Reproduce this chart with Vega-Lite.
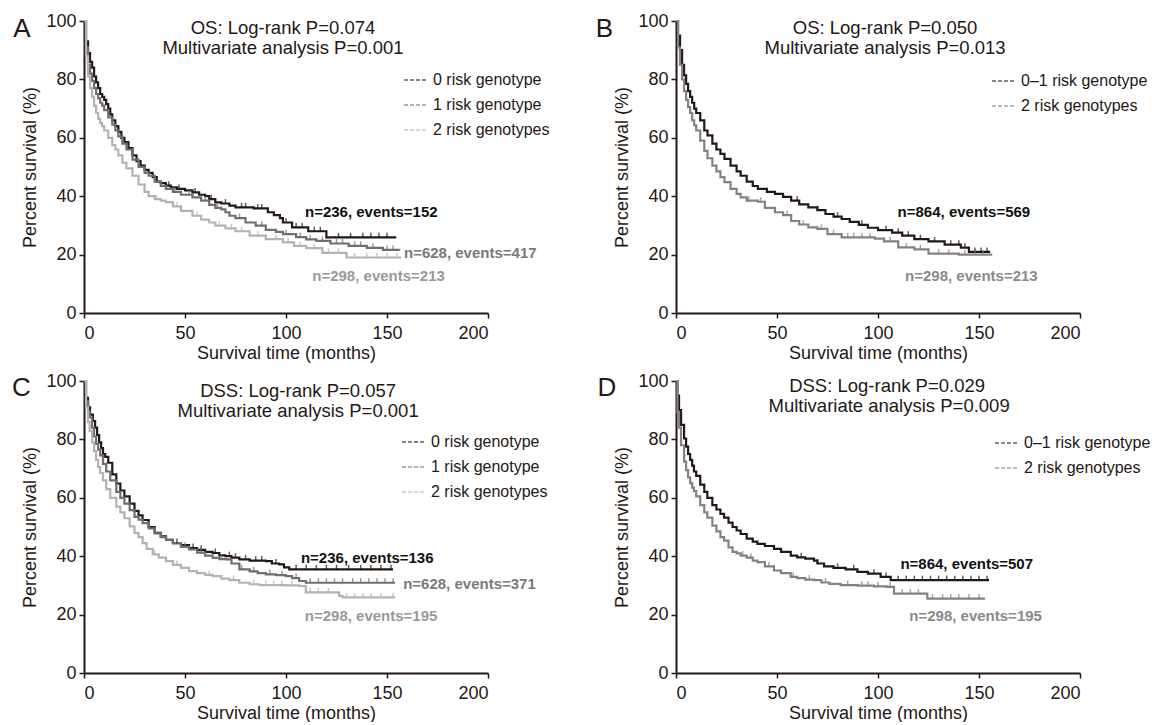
{
"$schema":"https://vega.github.io/schema/vega-lite/v6.json",
"padding":{"left":11,"top":12,"right":0,"bottom":0},
"background":"white",
"datasets":{"km":[
{"p":"A","g":"0 risk genotype","t":0,"s":100},{"p":"A","g":"0 risk genotype","t":1,"s":93},{"p":"A","g":"0 risk genotype","t":2,"s":89},{"p":"A","g":"0 risk genotype","t":3,"s":86},{"p":"A","g":"0 risk genotype","t":4,"s":84},{"p":"A","g":"0 risk genotype","t":5,"s":81},{"p":"A","g":"0 risk genotype","t":6,"s":79},{"p":"A","g":"0 risk genotype","t":7,"s":77},{"p":"A","g":"0 risk genotype","t":8,"s":75},{"p":"A","g":"0 risk genotype","t":9,"s":74},{"p":"A","g":"0 risk genotype","t":10,"s":73},{"p":"A","g":"0 risk genotype","t":11,"s":71.5},{"p":"A","g":"0 risk genotype","t":12,"s":70},{"p":"A","g":"0 risk genotype","t":13,"s":68},{"p":"A","g":"0 risk genotype","t":14,"s":66},{"p":"A","g":"0 risk genotype","t":15.5,"s":64},{"p":"A","g":"0 risk genotype","t":17,"s":62},{"p":"A","g":"0 risk genotype","t":18.5,"s":60},{"p":"A","g":"0 risk genotype","t":20,"s":58.5},{"p":"A","g":"0 risk genotype","t":22,"s":56.5},{"p":"A","g":"0 risk genotype","t":24,"s":54},{"p":"A","g":"0 risk genotype","t":26,"s":52},{"p":"A","g":"0 risk genotype","t":28,"s":50.5},{"p":"A","g":"0 risk genotype","t":30,"s":49},{"p":"A","g":"0 risk genotype","t":32,"s":48},{"p":"A","g":"0 risk genotype","t":34,"s":46.5},{"p":"A","g":"0 risk genotype","t":36,"s":45},{"p":"A","g":"0 risk genotype","t":38,"s":44.5},{"p":"A","g":"0 risk genotype","t":40.5,"s":43.6},{"p":"A","g":"0 risk genotype","t":43,"s":43},{"p":"A","g":"0 risk genotype","t":46,"s":42.5},{"p":"A","g":"0 risk genotype","t":50,"s":42},{"p":"A","g":"0 risk genotype","t":53.7,"s":41.3},{"p":"A","g":"0 risk genotype","t":57,"s":40.5},{"p":"A","g":"0 risk genotype","t":60,"s":40},{"p":"A","g":"0 risk genotype","t":62,"s":39},{"p":"A","g":"0 risk genotype","t":65,"s":37.9},{"p":"A","g":"0 risk genotype","t":68,"s":37.5},{"p":"A","g":"0 risk genotype","t":72,"s":36.8},{"p":"A","g":"0 risk genotype","t":75,"s":36.2},{"p":"A","g":"0 risk genotype","t":84,"s":35.8},{"p":"A","g":"0 risk genotype","t":91,"s":34.5},{"p":"A","g":"0 risk genotype","t":94,"s":33.5},{"p":"A","g":"0 risk genotype","t":97,"s":32.5},{"p":"A","g":"0 risk genotype","t":98.5,"s":31},{"p":"A","g":"0 risk genotype","t":103,"s":29.3},{"p":"A","g":"0 risk genotype","t":111,"s":28},{"p":"A","g":"0 risk genotype","t":120,"s":25.9},{"p":"A","g":"0 risk genotype","t":154,"s":25.5},
{"p":"A","g":"1 risk genotype","t":0,"s":100},{"p":"A","g":"1 risk genotype","t":1,"s":91},{"p":"A","g":"1 risk genotype","t":2,"s":85},{"p":"A","g":"1 risk genotype","t":3,"s":82},{"p":"A","g":"1 risk genotype","t":4,"s":79.5},{"p":"A","g":"1 risk genotype","t":5,"s":77},{"p":"A","g":"1 risk genotype","t":6,"s":75},{"p":"A","g":"1 risk genotype","t":7,"s":73.5},{"p":"A","g":"1 risk genotype","t":8,"s":72},{"p":"A","g":"1 risk genotype","t":9,"s":71},{"p":"A","g":"1 risk genotype","t":10,"s":69.5},{"p":"A","g":"1 risk genotype","t":12,"s":67},{"p":"A","g":"1 risk genotype","t":14,"s":64.5},{"p":"A","g":"1 risk genotype","t":15.5,"s":62.5},{"p":"A","g":"1 risk genotype","t":17,"s":60.5},{"p":"A","g":"1 risk genotype","t":19,"s":58},{"p":"A","g":"1 risk genotype","t":21,"s":56},{"p":"A","g":"1 risk genotype","t":24,"s":52.5},{"p":"A","g":"1 risk genotype","t":27,"s":50},{"p":"A","g":"1 risk genotype","t":30,"s":48},{"p":"A","g":"1 risk genotype","t":32,"s":47},{"p":"A","g":"1 risk genotype","t":35,"s":45},{"p":"A","g":"1 risk genotype","t":38,"s":43.5},{"p":"A","g":"1 risk genotype","t":40.5,"s":42.5},{"p":"A","g":"1 risk genotype","t":44,"s":41.5},{"p":"A","g":"1 risk genotype","t":48,"s":40.5},{"p":"A","g":"1 risk genotype","t":53.7,"s":39.6},{"p":"A","g":"1 risk genotype","t":58,"s":38.5},{"p":"A","g":"1 risk genotype","t":62,"s":37},{"p":"A","g":"1 risk genotype","t":65,"s":36},{"p":"A","g":"1 risk genotype","t":68,"s":35.5},{"p":"A","g":"1 risk genotype","t":70,"s":34.5},{"p":"A","g":"1 risk genotype","t":72,"s":33.3},{"p":"A","g":"1 risk genotype","t":75,"s":32.5},{"p":"A","g":"1 risk genotype","t":80,"s":31},{"p":"A","g":"1 risk genotype","t":85,"s":29.9},{"p":"A","g":"1 risk genotype","t":90,"s":28.5},{"p":"A","g":"1 risk genotype","t":95,"s":27.8},{"p":"A","g":"1 risk genotype","t":98.5,"s":27},{"p":"A","g":"1 risk genotype","t":105,"s":26},{"p":"A","g":"1 risk genotype","t":110,"s":25.2},{"p":"A","g":"1 risk genotype","t":115,"s":24.7},{"p":"A","g":"1 risk genotype","t":122,"s":23.8},{"p":"A","g":"1 risk genotype","t":131,"s":23},{"p":"A","g":"1 risk genotype","t":140,"s":22.3},{"p":"A","g":"1 risk genotype","t":148,"s":21.6},{"p":"A","g":"1 risk genotype","t":156,"s":21.3},
{"p":"A","g":"2 risk genotypes","t":0,"s":100},{"p":"A","g":"2 risk genotypes","t":1,"s":88},{"p":"A","g":"2 risk genotypes","t":2,"s":81},{"p":"A","g":"2 risk genotypes","t":3,"s":77},{"p":"A","g":"2 risk genotypes","t":4,"s":74},{"p":"A","g":"2 risk genotypes","t":5,"s":71},{"p":"A","g":"2 risk genotypes","t":6,"s":68.5},{"p":"A","g":"2 risk genotypes","t":7,"s":66.5},{"p":"A","g":"2 risk genotypes","t":8,"s":65},{"p":"A","g":"2 risk genotypes","t":9,"s":64},{"p":"A","g":"2 risk genotypes","t":10,"s":62.5},{"p":"A","g":"2 risk genotypes","t":12,"s":60},{"p":"A","g":"2 risk genotypes","t":14,"s":57.5},{"p":"A","g":"2 risk genotypes","t":15.5,"s":56},{"p":"A","g":"2 risk genotypes","t":17,"s":54},{"p":"A","g":"2 risk genotypes","t":19,"s":51.5},{"p":"A","g":"2 risk genotypes","t":21,"s":49.5},{"p":"A","g":"2 risk genotypes","t":24,"s":47},{"p":"A","g":"2 risk genotypes","t":27,"s":44},{"p":"A","g":"2 risk genotypes","t":30,"s":41.5},{"p":"A","g":"2 risk genotypes","t":32,"s":40},{"p":"A","g":"2 risk genotypes","t":35,"s":39},{"p":"A","g":"2 risk genotypes","t":38,"s":38.5},{"p":"A","g":"2 risk genotypes","t":40.5,"s":38},{"p":"A","g":"2 risk genotypes","t":44,"s":36.5},{"p":"A","g":"2 risk genotypes","t":48,"s":35},{"p":"A","g":"2 risk genotypes","t":53.7,"s":33.3},{"p":"A","g":"2 risk genotypes","t":58,"s":32},{"p":"A","g":"2 risk genotypes","t":62,"s":31},{"p":"A","g":"2 risk genotypes","t":65,"s":29.9},{"p":"A","g":"2 risk genotypes","t":70,"s":29},{"p":"A","g":"2 risk genotypes","t":75,"s":28},{"p":"A","g":"2 risk genotypes","t":82,"s":26.5},{"p":"A","g":"2 risk genotypes","t":90,"s":25.3},{"p":"A","g":"2 risk genotypes","t":98.5,"s":24.2},{"p":"A","g":"2 risk genotypes","t":104,"s":23},{"p":"A","g":"2 risk genotypes","t":110,"s":22.2},{"p":"A","g":"2 risk genotypes","t":118,"s":20.6},{"p":"A","g":"2 risk genotypes","t":130,"s":19},{"p":"A","g":"2 risk genotypes","t":157,"s":19},
{"p":"B","g":"0–1 risk genotype","t":0,"s":100},{"p":"B","g":"0–1 risk genotype","t":1,"s":95},{"p":"B","g":"0–1 risk genotype","t":2,"s":90},{"p":"B","g":"0–1 risk genotype","t":3,"s":85},{"p":"B","g":"0–1 risk genotype","t":4,"s":81.4},{"p":"B","g":"0–1 risk genotype","t":5,"s":78.5},{"p":"B","g":"0–1 risk genotype","t":6,"s":76},{"p":"B","g":"0–1 risk genotype","t":7,"s":74},{"p":"B","g":"0–1 risk genotype","t":8,"s":72},{"p":"B","g":"0–1 risk genotype","t":9,"s":70},{"p":"B","g":"0–1 risk genotype","t":10,"s":68.5},{"p":"B","g":"0–1 risk genotype","t":12,"s":66},{"p":"B","g":"0–1 risk genotype","t":14,"s":62.5},{"p":"B","g":"0–1 risk genotype","t":15.6,"s":60.8},{"p":"B","g":"0–1 risk genotype","t":18,"s":58},{"p":"B","g":"0–1 risk genotype","t":20,"s":56},{"p":"B","g":"0–1 risk genotype","t":22,"s":54.5},{"p":"B","g":"0–1 risk genotype","t":24,"s":52.8},{"p":"B","g":"0–1 risk genotype","t":27,"s":50.5},{"p":"B","g":"0–1 risk genotype","t":30,"s":48.5},{"p":"B","g":"0–1 risk genotype","t":32,"s":47},{"p":"B","g":"0–1 risk genotype","t":35,"s":45},{"p":"B","g":"0–1 risk genotype","t":38,"s":43.5},{"p":"B","g":"0–1 risk genotype","t":40.5,"s":42.5},{"p":"B","g":"0–1 risk genotype","t":45,"s":41.5},{"p":"B","g":"0–1 risk genotype","t":49,"s":40.8},{"p":"B","g":"0–1 risk genotype","t":53,"s":39.8},{"p":"B","g":"0–1 risk genotype","t":57,"s":38.5},{"p":"B","g":"0–1 risk genotype","t":61,"s":37.2},{"p":"B","g":"0–1 risk genotype","t":65.5,"s":36.2},{"p":"B","g":"0–1 risk genotype","t":70,"s":35.2},{"p":"B","g":"0–1 risk genotype","t":74,"s":33.9},{"p":"B","g":"0–1 risk genotype","t":78,"s":33},{"p":"B","g":"0–1 risk genotype","t":82,"s":32.2},{"p":"B","g":"0–1 risk genotype","t":86,"s":31.2},{"p":"B","g":"0–1 risk genotype","t":90.5,"s":30.2},{"p":"B","g":"0–1 risk genotype","t":95,"s":29.2},{"p":"B","g":"0–1 risk genotype","t":100,"s":28.4},{"p":"B","g":"0–1 risk genotype","t":107,"s":27.5},{"p":"B","g":"0–1 risk genotype","t":112,"s":26.5},{"p":"B","g":"0–1 risk genotype","t":118,"s":25.3},{"p":"B","g":"0–1 risk genotype","t":125,"s":24.5},{"p":"B","g":"0–1 risk genotype","t":133,"s":23.4},{"p":"B","g":"0–1 risk genotype","t":141,"s":22.4},{"p":"B","g":"0–1 risk genotype","t":145,"s":20.9},{"p":"B","g":"0–1 risk genotype","t":155.5,"s":20.9},
{"p":"B","g":"2 risk genotypes","t":0,"s":100},{"p":"B","g":"2 risk genotypes","t":1,"s":91},{"p":"B","g":"2 risk genotypes","t":2,"s":85},{"p":"B","g":"2 risk genotypes","t":3,"s":80},{"p":"B","g":"2 risk genotypes","t":4,"s":76},{"p":"B","g":"2 risk genotypes","t":5,"s":73},{"p":"B","g":"2 risk genotypes","t":6,"s":70.5},{"p":"B","g":"2 risk genotypes","t":7,"s":68.5},{"p":"B","g":"2 risk genotypes","t":8,"s":66},{"p":"B","g":"2 risk genotypes","t":9,"s":64.3},{"p":"B","g":"2 risk genotypes","t":10,"s":62.5},{"p":"B","g":"2 risk genotypes","t":12,"s":59},{"p":"B","g":"2 risk genotypes","t":14,"s":55.5},{"p":"B","g":"2 risk genotypes","t":15.6,"s":53},{"p":"B","g":"2 risk genotypes","t":18,"s":50.5},{"p":"B","g":"2 risk genotypes","t":20,"s":48.5},{"p":"B","g":"2 risk genotypes","t":22,"s":46.5},{"p":"B","g":"2 risk genotypes","t":24,"s":44.8},{"p":"B","g":"2 risk genotypes","t":27,"s":42.5},{"p":"B","g":"2 risk genotypes","t":30,"s":40.8},{"p":"B","g":"2 risk genotypes","t":32,"s":39.6},{"p":"B","g":"2 risk genotypes","t":35,"s":38.5},{"p":"B","g":"2 risk genotypes","t":40.5,"s":38.1},{"p":"B","g":"2 risk genotypes","t":44,"s":36},{"p":"B","g":"2 risk genotypes","t":49,"s":34.5},{"p":"B","g":"2 risk genotypes","t":53,"s":33.5},{"p":"B","g":"2 risk genotypes","t":57,"s":31.5},{"p":"B","g":"2 risk genotypes","t":61,"s":30.3},{"p":"B","g":"2 risk genotypes","t":65.5,"s":29.3},{"p":"B","g":"2 risk genotypes","t":70,"s":28.8},{"p":"B","g":"2 risk genotypes","t":75,"s":27},{"p":"B","g":"2 risk genotypes","t":82,"s":25.9},{"p":"B","g":"2 risk genotypes","t":98.5,"s":25.5},{"p":"B","g":"2 risk genotypes","t":103,"s":24.5},{"p":"B","g":"2 risk genotypes","t":110,"s":22.5},{"p":"B","g":"2 risk genotypes","t":118,"s":21.8},{"p":"B","g":"2 risk genotypes","t":125,"s":20.3},{"p":"B","g":"2 risk genotypes","t":140,"s":20},{"p":"B","g":"2 risk genotypes","t":156,"s":19.6},
{"p":"C","g":"0 risk genotype","t":0,"s":100},{"p":"C","g":"0 risk genotype","t":1,"s":94.2},{"p":"C","g":"0 risk genotype","t":2,"s":91},{"p":"C","g":"0 risk genotype","t":3,"s":88.5},{"p":"C","g":"0 risk genotype","t":4.4,"s":86.3},{"p":"C","g":"0 risk genotype","t":5.5,"s":84},{"p":"C","g":"0 risk genotype","t":6.5,"s":81.5},{"p":"C","g":"0 risk genotype","t":7.5,"s":79},{"p":"C","g":"0 risk genotype","t":8.5,"s":77},{"p":"C","g":"0 risk genotype","t":9.4,"s":75},{"p":"C","g":"0 risk genotype","t":10.5,"s":74},{"p":"C","g":"0 risk genotype","t":12,"s":72},{"p":"C","g":"0 risk genotype","t":14,"s":68},{"p":"C","g":"0 risk genotype","t":16,"s":64.9},{"p":"C","g":"0 risk genotype","t":18,"s":62.5},{"p":"C","g":"0 risk genotype","t":20,"s":60.5},{"p":"C","g":"0 risk genotype","t":22.6,"s":58},{"p":"C","g":"0 risk genotype","t":25,"s":55.5},{"p":"C","g":"0 risk genotype","t":27,"s":54},{"p":"C","g":"0 risk genotype","t":29,"s":52.4},{"p":"C","g":"0 risk genotype","t":32,"s":50},{"p":"C","g":"0 risk genotype","t":35,"s":48},{"p":"C","g":"0 risk genotype","t":38,"s":46.8},{"p":"C","g":"0 risk genotype","t":40.6,"s":45.6},{"p":"C","g":"0 risk genotype","t":44,"s":44.5},{"p":"C","g":"0 risk genotype","t":48,"s":43.8},{"p":"C","g":"0 risk genotype","t":52,"s":42.8},{"p":"C","g":"0 risk genotype","t":56,"s":42.2},{"p":"C","g":"0 risk genotype","t":60,"s":41.5},{"p":"C","g":"0 risk genotype","t":63.7,"s":41.1},{"p":"C","g":"0 risk genotype","t":67,"s":40.3},{"p":"C","g":"0 risk genotype","t":70,"s":40},{"p":"C","g":"0 risk genotype","t":73,"s":39.5},{"p":"C","g":"0 risk genotype","t":76.9,"s":38.9},{"p":"C","g":"0 risk genotype","t":82,"s":38.5},{"p":"C","g":"0 risk genotype","t":90,"s":38.3},{"p":"C","g":"0 risk genotype","t":93,"s":37.5},{"p":"C","g":"0 risk genotype","t":96.6,"s":37.2},{"p":"C","g":"0 risk genotype","t":99,"s":36.2},{"p":"C","g":"0 risk genotype","t":101.6,"s":35.5},{"p":"C","g":"0 risk genotype","t":153,"s":35.5},
{"p":"C","g":"1 risk genotype","t":0,"s":100},{"p":"C","g":"1 risk genotype","t":1,"s":93},{"p":"C","g":"1 risk genotype","t":2,"s":89.5},{"p":"C","g":"1 risk genotype","t":2.8,"s":87.5},{"p":"C","g":"1 risk genotype","t":4,"s":84},{"p":"C","g":"1 risk genotype","t":5,"s":81},{"p":"C","g":"1 risk genotype","t":6,"s":78.5},{"p":"C","g":"1 risk genotype","t":7,"s":76.5},{"p":"C","g":"1 risk genotype","t":8,"s":74.5},{"p":"C","g":"1 risk genotype","t":9.4,"s":71.6},{"p":"C","g":"1 risk genotype","t":11,"s":69},{"p":"C","g":"1 risk genotype","t":13,"s":66},{"p":"C","g":"1 risk genotype","t":16,"s":62},{"p":"C","g":"1 risk genotype","t":18,"s":60},{"p":"C","g":"1 risk genotype","t":20,"s":58},{"p":"C","g":"1 risk genotype","t":22.6,"s":55.8},{"p":"C","g":"1 risk genotype","t":25,"s":53.5},{"p":"C","g":"1 risk genotype","t":27,"s":52.5},{"p":"C","g":"1 risk genotype","t":29,"s":51.3},{"p":"C","g":"1 risk genotype","t":32,"s":49.5},{"p":"C","g":"1 risk genotype","t":35,"s":47.8},{"p":"C","g":"1 risk genotype","t":38,"s":46.5},{"p":"C","g":"1 risk genotype","t":40.6,"s":45.6},{"p":"C","g":"1 risk genotype","t":44,"s":44.5},{"p":"C","g":"1 risk genotype","t":48,"s":43.2},{"p":"C","g":"1 risk genotype","t":52,"s":42.3},{"p":"C","g":"1 risk genotype","t":56,"s":41.2},{"p":"C","g":"1 risk genotype","t":60,"s":40.2},{"p":"C","g":"1 risk genotype","t":63.7,"s":39.4},{"p":"C","g":"1 risk genotype","t":67,"s":39},{"p":"C","g":"1 risk genotype","t":70.3,"s":38.9},{"p":"C","g":"1 risk genotype","t":73,"s":37.5},{"p":"C","g":"1 risk genotype","t":76.9,"s":35.5},{"p":"C","g":"1 risk genotype","t":82,"s":34.8},{"p":"C","g":"1 risk genotype","t":86,"s":34.2},{"p":"C","g":"1 risk genotype","t":90,"s":33.8},{"p":"C","g":"1 risk genotype","t":95,"s":33.5},{"p":"C","g":"1 risk genotype","t":99.9,"s":33.2},{"p":"C","g":"1 risk genotype","t":103,"s":32.5},{"p":"C","g":"1 risk genotype","t":106.5,"s":31.5},{"p":"C","g":"1 risk genotype","t":109.8,"s":30.9},{"p":"C","g":"1 risk genotype","t":154,"s":30.9},
{"p":"C","g":"2 risk genotypes","t":0,"s":100},{"p":"C","g":"2 risk genotypes","t":1,"s":91},{"p":"C","g":"2 risk genotypes","t":2,"s":86},{"p":"C","g":"2 risk genotypes","t":2.8,"s":82.9},{"p":"C","g":"2 risk genotypes","t":4,"s":79},{"p":"C","g":"2 risk genotypes","t":5,"s":76},{"p":"C","g":"2 risk genotypes","t":6,"s":73},{"p":"C","g":"2 risk genotypes","t":7,"s":70.5},{"p":"C","g":"2 risk genotypes","t":8,"s":68.5},{"p":"C","g":"2 risk genotypes","t":9.4,"s":66},{"p":"C","g":"2 risk genotypes","t":11,"s":63},{"p":"C","g":"2 risk genotypes","t":13,"s":60},{"p":"C","g":"2 risk genotypes","t":16,"s":57},{"p":"C","g":"2 risk genotypes","t":18,"s":55},{"p":"C","g":"2 risk genotypes","t":20,"s":53},{"p":"C","g":"2 risk genotypes","t":22.6,"s":50.2},{"p":"C","g":"2 risk genotypes","t":25,"s":48},{"p":"C","g":"2 risk genotypes","t":27,"s":46.5},{"p":"C","g":"2 risk genotypes","t":29,"s":44.5},{"p":"C","g":"2 risk genotypes","t":31,"s":42.5},{"p":"C","g":"2 risk genotypes","t":34,"s":40.6},{"p":"C","g":"2 risk genotypes","t":37,"s":39.5},{"p":"C","g":"2 risk genotypes","t":40.6,"s":38.3},{"p":"C","g":"2 risk genotypes","t":44,"s":37},{"p":"C","g":"2 risk genotypes","t":48,"s":36},{"p":"C","g":"2 risk genotypes","t":52,"s":34.9},{"p":"C","g":"2 risk genotypes","t":56,"s":34.2},{"p":"C","g":"2 risk genotypes","t":60,"s":33.6},{"p":"C","g":"2 risk genotypes","t":63.7,"s":33.2},{"p":"C","g":"2 risk genotypes","t":68,"s":32.3},{"p":"C","g":"2 risk genotypes","t":72,"s":31.8},{"p":"C","g":"2 risk genotypes","t":76.9,"s":30.9},{"p":"C","g":"2 risk genotypes","t":82,"s":30.4},{"p":"C","g":"2 risk genotypes","t":86.8,"s":30.1},{"p":"C","g":"2 risk genotypes","t":100,"s":30},{"p":"C","g":"2 risk genotypes","t":106.5,"s":29.8},{"p":"C","g":"2 risk genotypes","t":109.8,"s":27.6},{"p":"C","g":"2 risk genotypes","t":126.3,"s":26.4},{"p":"C","g":"2 risk genotypes","t":128,"s":25.9},{"p":"C","g":"2 risk genotypes","t":154,"s":25.9},
{"p":"D","g":"0–1 risk genotype","t":0,"s":100},{"p":"D","g":"0–1 risk genotype","t":0.7,"s":95},{"p":"D","g":"0–1 risk genotype","t":1.5,"s":90},{"p":"D","g":"0–1 risk genotype","t":2.5,"s":85},{"p":"D","g":"0–1 risk genotype","t":4,"s":80.3},{"p":"D","g":"0–1 risk genotype","t":5,"s":77.5},{"p":"D","g":"0–1 risk genotype","t":6,"s":75},{"p":"D","g":"0–1 risk genotype","t":7,"s":73},{"p":"D","g":"0–1 risk genotype","t":8,"s":71},{"p":"D","g":"0–1 risk genotype","t":8.9,"s":69},{"p":"D","g":"0–1 risk genotype","t":10,"s":67.5},{"p":"D","g":"0–1 risk genotype","t":12,"s":64.5},{"p":"D","g":"0–1 risk genotype","t":14,"s":62},{"p":"D","g":"0–1 risk genotype","t":15.5,"s":60},{"p":"D","g":"0–1 risk genotype","t":18,"s":57.5},{"p":"D","g":"0–1 risk genotype","t":20,"s":56},{"p":"D","g":"0–1 risk genotype","t":22,"s":54.5},{"p":"D","g":"0–1 risk genotype","t":23.8,"s":53.2},{"p":"D","g":"0–1 risk genotype","t":26,"s":51.5},{"p":"D","g":"0–1 risk genotype","t":28,"s":50},{"p":"D","g":"0–1 risk genotype","t":30,"s":48.8},{"p":"D","g":"0–1 risk genotype","t":32,"s":47.6},{"p":"D","g":"0–1 risk genotype","t":35,"s":46},{"p":"D","g":"0–1 risk genotype","t":38,"s":45},{"p":"D","g":"0–1 risk genotype","t":40.3,"s":44.2},{"p":"D","g":"0–1 risk genotype","t":44,"s":43.5},{"p":"D","g":"0–1 risk genotype","t":48.5,"s":42.5},{"p":"D","g":"0–1 risk genotype","t":52,"s":41.5},{"p":"D","g":"0–1 risk genotype","t":56.8,"s":40.2},{"p":"D","g":"0–1 risk genotype","t":60,"s":39.6},{"p":"D","g":"0–1 risk genotype","t":64,"s":39.2},{"p":"D","g":"0–1 risk genotype","t":68.3,"s":38.5},{"p":"D","g":"0–1 risk genotype","t":70,"s":37.5},{"p":"D","g":"0–1 risk genotype","t":73.3,"s":36.5},{"p":"D","g":"0–1 risk genotype","t":78,"s":36},{"p":"D","g":"0–1 risk genotype","t":84,"s":35.5},{"p":"D","g":"0–1 risk genotype","t":89.8,"s":34.6},{"p":"D","g":"0–1 risk genotype","t":95,"s":34},{"p":"D","g":"0–1 risk genotype","t":101.3,"s":32.9},{"p":"D","g":"0–1 risk genotype","t":106.3,"s":31.8},{"p":"D","g":"0–1 risk genotype","t":155,"s":31.8},
{"p":"D","g":"2 risk genotypes","t":0,"s":100},{"p":"D","g":"2 risk genotypes","t":0.7,"s":89.4},{"p":"D","g":"2 risk genotypes","t":1.5,"s":84},{"p":"D","g":"2 risk genotypes","t":2.5,"s":78},{"p":"D","g":"2 risk genotypes","t":4,"s":72.4},{"p":"D","g":"2 risk genotypes","t":5,"s":69.5},{"p":"D","g":"2 risk genotypes","t":6,"s":67},{"p":"D","g":"2 risk genotypes","t":7,"s":65},{"p":"D","g":"2 risk genotypes","t":8,"s":63.5},{"p":"D","g":"2 risk genotypes","t":8.9,"s":62.3},{"p":"D","g":"2 risk genotypes","t":10,"s":60.5},{"p":"D","g":"2 risk genotypes","t":12,"s":57.5},{"p":"D","g":"2 risk genotypes","t":14,"s":55},{"p":"D","g":"2 risk genotypes","t":15.5,"s":53.2},{"p":"D","g":"2 risk genotypes","t":18,"s":50.5},{"p":"D","g":"2 risk genotypes","t":20,"s":48.5},{"p":"D","g":"2 risk genotypes","t":22,"s":46.5},{"p":"D","g":"2 risk genotypes","t":23.8,"s":45.3},{"p":"D","g":"2 risk genotypes","t":26,"s":43},{"p":"D","g":"2 risk genotypes","t":28,"s":41.5},{"p":"D","g":"2 risk genotypes","t":30,"s":41},{"p":"D","g":"2 risk genotypes","t":32,"s":40.2},{"p":"D","g":"2 risk genotypes","t":35,"s":39.5},{"p":"D","g":"2 risk genotypes","t":38,"s":38.5},{"p":"D","g":"2 risk genotypes","t":40.3,"s":38},{"p":"D","g":"2 risk genotypes","t":44,"s":36.5},{"p":"D","g":"2 risk genotypes","t":48.5,"s":35.1},{"p":"D","g":"2 risk genotypes","t":52,"s":34.2},{"p":"D","g":"2 risk genotypes","t":56.8,"s":32.9},{"p":"D","g":"2 risk genotypes","t":60,"s":32.5},{"p":"D","g":"2 risk genotypes","t":64,"s":32},{"p":"D","g":"2 risk genotypes","t":68.3,"s":31.8},{"p":"D","g":"2 risk genotypes","t":72,"s":31},{"p":"D","g":"2 risk genotypes","t":76,"s":30.5},{"p":"D","g":"2 risk genotypes","t":81.5,"s":30.1},{"p":"D","g":"2 risk genotypes","t":90,"s":29.9},{"p":"D","g":"2 risk genotypes","t":98,"s":29.7},{"p":"D","g":"2 risk genotypes","t":104.6,"s":29.5},{"p":"D","g":"2 risk genotypes","t":107.9,"s":27.2},{"p":"D","g":"2 risk genotypes","t":124.4,"s":25.5},{"p":"D","g":"2 risk genotypes","t":153,"s":25.5}
],
"cens":[
{"p":"A","g":"0 risk genotype","t":42,"s":43.6},{"p":"A","g":"0 risk genotype","t":47,"s":42.5},{"p":"A","g":"0 risk genotype","t":55,"s":41.3},{"p":"A","g":"0 risk genotype","t":63,"s":39},{"p":"A","g":"0 risk genotype","t":70,"s":37.5},{"p":"A","g":"0 risk genotype","t":78,"s":36.2},{"p":"A","g":"0 risk genotype","t":80,"s":36.2},{"p":"A","g":"0 risk genotype","t":86,"s":35.8},{"p":"A","g":"0 risk genotype","t":88,"s":35.8},{"p":"A","g":"0 risk genotype","t":100,"s":31},{"p":"A","g":"0 risk genotype","t":105,"s":29.3},{"p":"A","g":"0 risk genotype","t":108,"s":29.3},{"p":"A","g":"0 risk genotype","t":114,"s":28},{"p":"A","g":"0 risk genotype","t":117,"s":28},{"p":"A","g":"0 risk genotype","t":126,"s":25.9},{"p":"A","g":"0 risk genotype","t":132,"s":25.9},{"p":"A","g":"0 risk genotype","t":138,"s":25.9},{"p":"A","g":"0 risk genotype","t":142,"s":25.9},{"p":"A","g":"0 risk genotype","t":146,"s":25.9},{"p":"A","g":"0 risk genotype","t":150,"s":25.9},
{"p":"A","g":"1 risk genotype","t":45,"s":41.5},{"p":"A","g":"1 risk genotype","t":52,"s":40.5},{"p":"A","g":"1 risk genotype","t":60,"s":38.5},{"p":"A","g":"1 risk genotype","t":66,"s":36},{"p":"A","g":"1 risk genotype","t":77,"s":32.5},{"p":"A","g":"1 risk genotype","t":88,"s":29.9},{"p":"A","g":"1 risk genotype","t":100,"s":27},{"p":"A","g":"1 risk genotype","t":107,"s":26},{"p":"A","g":"1 risk genotype","t":112,"s":25.2},{"p":"A","g":"1 risk genotype","t":118,"s":24.7},{"p":"A","g":"1 risk genotype","t":125,"s":23.8},{"p":"A","g":"1 risk genotype","t":128,"s":23.8},{"p":"A","g":"1 risk genotype","t":134,"s":23},{"p":"A","g":"1 risk genotype","t":137,"s":23},{"p":"A","g":"1 risk genotype","t":143,"s":22.3},{"p":"A","g":"1 risk genotype","t":150,"s":21.6},{"p":"A","g":"1 risk genotype","t":153,"s":21.6},
{"p":"A","g":"2 risk genotypes","t":36,"s":39},{"p":"A","g":"2 risk genotypes","t":46,"s":36.5},{"p":"A","g":"2 risk genotypes","t":56,"s":33.3},{"p":"A","g":"2 risk genotypes","t":67,"s":29.9},{"p":"A","g":"2 risk genotypes","t":73,"s":29},{"p":"A","g":"2 risk genotypes","t":78,"s":28},{"p":"A","g":"2 risk genotypes","t":86,"s":26.5},{"p":"A","g":"2 risk genotypes","t":95,"s":25.3},{"p":"A","g":"2 risk genotypes","t":101,"s":24.2},{"p":"A","g":"2 risk genotypes","t":107,"s":23},{"p":"A","g":"2 risk genotypes","t":114,"s":22.2},{"p":"A","g":"2 risk genotypes","t":121,"s":20.6},{"p":"A","g":"2 risk genotypes","t":126,"s":20.6},{"p":"A","g":"2 risk genotypes","t":134,"s":19},{"p":"A","g":"2 risk genotypes","t":140,"s":19},{"p":"A","g":"2 risk genotypes","t":145,"s":19},{"p":"A","g":"2 risk genotypes","t":150,"s":19},{"p":"A","g":"2 risk genotypes","t":155,"s":19},
{"p":"B","g":"0–1 risk genotype","t":60,"s":38.5},{"p":"B","g":"0–1 risk genotype","t":70,"s":35.2},{"p":"B","g":"0–1 risk genotype","t":80,"s":33},{"p":"B","g":"0–1 risk genotype","t":92,"s":30.2},{"p":"B","g":"0–1 risk genotype","t":104,"s":28.4},{"p":"B","g":"0–1 risk genotype","t":110,"s":27.5},{"p":"B","g":"0–1 risk genotype","t":115,"s":26.5},{"p":"B","g":"0–1 risk genotype","t":121,"s":25.3},{"p":"B","g":"0–1 risk genotype","t":128,"s":24.5},{"p":"B","g":"0–1 risk genotype","t":136,"s":23.4},{"p":"B","g":"0–1 risk genotype","t":140,"s":23.4},{"p":"B","g":"0–1 risk genotype","t":143,"s":22.4},{"p":"B","g":"0–1 risk genotype","t":148,"s":20.9},{"p":"B","g":"0–1 risk genotype","t":151,"s":20.9},{"p":"B","g":"0–1 risk genotype","t":154,"s":20.9},
{"p":"B","g":"2 risk genotypes","t":36,"s":38.5},{"p":"B","g":"2 risk genotypes","t":42,"s":38.1},{"p":"B","g":"2 risk genotypes","t":55,"s":33.5},{"p":"B","g":"2 risk genotypes","t":63,"s":30.3},{"p":"B","g":"2 risk genotypes","t":72,"s":28.8},{"p":"B","g":"2 risk genotypes","t":78,"s":27},{"p":"B","g":"2 risk genotypes","t":85,"s":25.9},{"p":"B","g":"2 risk genotypes","t":88,"s":25.9},{"p":"B","g":"2 risk genotypes","t":92,"s":25.9},{"p":"B","g":"2 risk genotypes","t":96,"s":25.9},{"p":"B","g":"2 risk genotypes","t":106,"s":24.5},{"p":"B","g":"2 risk genotypes","t":114,"s":22.5},{"p":"B","g":"2 risk genotypes","t":121,"s":21.8},{"p":"B","g":"2 risk genotypes","t":130,"s":20.3},{"p":"B","g":"2 risk genotypes","t":135,"s":20.3},{"p":"B","g":"2 risk genotypes","t":143,"s":20},{"p":"B","g":"2 risk genotypes","t":148,"s":20},{"p":"B","g":"2 risk genotypes","t":152,"s":20},
{"p":"C","g":"0 risk genotype","t":46,"s":44.5},{"p":"C","g":"0 risk genotype","t":54,"s":42.8},{"p":"C","g":"0 risk genotype","t":58,"s":42.2},{"p":"C","g":"0 risk genotype","t":65,"s":41.1},{"p":"C","g":"0 risk genotype","t":72,"s":40},{"p":"C","g":"0 risk genotype","t":75,"s":39.5},{"p":"C","g":"0 risk genotype","t":80,"s":38.9},{"p":"C","g":"0 risk genotype","t":85,"s":38.5},{"p":"C","g":"0 risk genotype","t":88,"s":38.5},{"p":"C","g":"0 risk genotype","t":95,"s":37.5},{"p":"C","g":"0 risk genotype","t":105,"s":35.5},{"p":"C","g":"0 risk genotype","t":110,"s":35.5},{"p":"C","g":"0 risk genotype","t":115,"s":35.5},{"p":"C","g":"0 risk genotype","t":120,"s":35.5},{"p":"C","g":"0 risk genotype","t":125,"s":35.5},{"p":"C","g":"0 risk genotype","t":131,"s":35.5},{"p":"C","g":"0 risk genotype","t":137,"s":35.5},{"p":"C","g":"0 risk genotype","t":142,"s":35.5},{"p":"C","g":"0 risk genotype","t":147,"s":35.5},{"p":"C","g":"0 risk genotype","t":152,"s":35.5},
{"p":"C","g":"1 risk genotype","t":50,"s":43.2},{"p":"C","g":"1 risk genotype","t":58,"s":41.2},{"p":"C","g":"1 risk genotype","t":68,"s":39},{"p":"C","g":"1 risk genotype","t":78,"s":35.5},{"p":"C","g":"1 risk genotype","t":84,"s":34.8},{"p":"C","g":"1 risk genotype","t":92,"s":33.8},{"p":"C","g":"1 risk genotype","t":98,"s":33.5},{"p":"C","g":"1 risk genotype","t":105,"s":32.5},{"p":"C","g":"1 risk genotype","t":112,"s":30.9},{"p":"C","g":"1 risk genotype","t":116,"s":30.9},{"p":"C","g":"1 risk genotype","t":120,"s":30.9},{"p":"C","g":"1 risk genotype","t":124,"s":30.9},{"p":"C","g":"1 risk genotype","t":128,"s":30.9},{"p":"C","g":"1 risk genotype","t":133,"s":30.9},{"p":"C","g":"1 risk genotype","t":137,"s":30.9},{"p":"C","g":"1 risk genotype","t":141,"s":30.9},{"p":"C","g":"1 risk genotype","t":145,"s":30.9},{"p":"C","g":"1 risk genotype","t":149,"s":30.9},{"p":"C","g":"1 risk genotype","t":153,"s":30.9},
{"p":"C","g":"2 risk genotypes","t":35,"s":40.6},{"p":"C","g":"2 risk genotypes","t":46,"s":37},{"p":"C","g":"2 risk genotypes","t":62,"s":33.6},{"p":"C","g":"2 risk genotypes","t":74,"s":31.8},{"p":"C","g":"2 risk genotypes","t":84,"s":30.4},{"p":"C","g":"2 risk genotypes","t":90,"s":30.1},{"p":"C","g":"2 risk genotypes","t":94,"s":30.1},{"p":"C","g":"2 risk genotypes","t":98,"s":30.1},{"p":"C","g":"2 risk genotypes","t":103,"s":30},{"p":"C","g":"2 risk genotypes","t":112,"s":27.6},{"p":"C","g":"2 risk genotypes","t":116,"s":27.6},{"p":"C","g":"2 risk genotypes","t":121,"s":27.6},{"p":"C","g":"2 risk genotypes","t":130,"s":25.9},{"p":"C","g":"2 risk genotypes","t":134,"s":25.9},{"p":"C","g":"2 risk genotypes","t":138,"s":25.9},{"p":"C","g":"2 risk genotypes","t":142,"s":25.9},{"p":"C","g":"2 risk genotypes","t":147,"s":25.9},{"p":"C","g":"2 risk genotypes","t":153,"s":25.9},
{"p":"D","g":"0–1 risk genotype","t":62,"s":39.6},{"p":"D","g":"0–1 risk genotype","t":70,"s":37.5},{"p":"D","g":"0–1 risk genotype","t":80,"s":36},{"p":"D","g":"0–1 risk genotype","t":88,"s":35.5},{"p":"D","g":"0–1 risk genotype","t":98,"s":34},{"p":"D","g":"0–1 risk genotype","t":104,"s":32.9},{"p":"D","g":"0–1 risk genotype","t":110,"s":31.8},{"p":"D","g":"0–1 risk genotype","t":114,"s":31.8},{"p":"D","g":"0–1 risk genotype","t":118,"s":31.8},{"p":"D","g":"0–1 risk genotype","t":122,"s":31.8},{"p":"D","g":"0–1 risk genotype","t":126,"s":31.8},{"p":"D","g":"0–1 risk genotype","t":130,"s":31.8},{"p":"D","g":"0–1 risk genotype","t":134,"s":31.8},{"p":"D","g":"0–1 risk genotype","t":138,"s":31.8},{"p":"D","g":"0–1 risk genotype","t":142,"s":31.8},{"p":"D","g":"0–1 risk genotype","t":146,"s":31.8},{"p":"D","g":"0–1 risk genotype","t":150,"s":31.8},{"p":"D","g":"0–1 risk genotype","t":154,"s":31.8},
{"p":"D","g":"2 risk genotypes","t":33,"s":40.2},{"p":"D","g":"2 risk genotypes","t":37,"s":39.5},{"p":"D","g":"2 risk genotypes","t":46,"s":36.5},{"p":"D","g":"2 risk genotypes","t":58,"s":32.9},{"p":"D","g":"2 risk genotypes","t":66,"s":32},{"p":"D","g":"2 risk genotypes","t":74,"s":31},{"p":"D","g":"2 risk genotypes","t":85,"s":30.1},{"p":"D","g":"2 risk genotypes","t":92,"s":29.9},{"p":"D","g":"2 risk genotypes","t":95,"s":29.9},{"p":"D","g":"2 risk genotypes","t":100,"s":29.7},{"p":"D","g":"2 risk genotypes","t":106,"s":29.5},{"p":"D","g":"2 risk genotypes","t":112,"s":27.2},{"p":"D","g":"2 risk genotypes","t":116,"s":27.2},{"p":"D","g":"2 risk genotypes","t":120,"s":27.2},{"p":"D","g":"2 risk genotypes","t":127,"s":25.5},{"p":"D","g":"2 risk genotypes","t":132,"s":25.5},{"p":"D","g":"2 risk genotypes","t":136,"s":25.5},{"p":"D","g":"2 risk genotypes","t":140,"s":25.5},{"p":"D","g":"2 risk genotypes","t":145,"s":25.5},{"p":"D","g":"2 risk genotypes","t":150,"s":25.5}
]},
"columns":2,
"bounds":"flush",
"spacing":{"row":68,"column":188},
"resolve":{"scale":{"x":"independent","y":"independent","color":"independent"},"legend":{"color":"independent"}},
"concat":[
{"width":404,"height":292,"layer":[
 {"data":{"name":"km"},"transform":[{"filter":"datum.p==='A'"}],"mark":{"type":"line","interpolate":"step-after","strokeWidth":2.2},
  "encoding":{"x":{"field":"t","type":"quantitative","scale":{"domain":[0,200],"nice":false},"axis":{"values":[0,50,100,150,200],"title":"Survival time (months)"}},
  "y":{"field":"s","type":"quantitative","scale":{"domain":[0,100],"nice":false},"axis":{"values":[0,20,40,60,80,100],"title":"Percent survival (%)"}},
  "color":{"field":"g","type":"nominal","scale":{"domain":["0 risk genotype","1 risk genotype","2 risk genotypes"],"range":["#231815","#6f6f6f","#b3b3b3"]},
  "legend":{"orient":"none","legendX":319,"legendY":47,"title":null,"symbolType":"stroke","symbolSize":484,"symbolStrokeWidth":1.5,"symbolDash":[4,2],"labelFontSize":16,"labelOffset":6,"rowPadding":5,"padding":0,"labelColor":"#231815"}}}},
 {"data":{"name":"cens"},"transform":[{"filter":"datum.p==='A'"}],"mark":{"type":"tick","orient":"vertical","size":5,"thickness":1.5,"yOffset":-2},
  "encoding":{"x":{"field":"t","type":"quantitative"},"y":{"field":"s","type":"quantitative"},"color":{"field":"g","type":"nominal"}}},
 {"data":{"values":[{}]},"mark":{"type":"text","fontSize":18.5,"align":"center","baseline":"middle","color":"#231815"},"encoding":{"x":{"datum":98.5},"y":{"datum":97.5},"text":{"value":"OS: Log-rank P=0.074"}}},
 {"data":{"values":[{}]},"mark":{"type":"text","fontSize":18.5,"align":"center","baseline":"middle","color":"#231815"},"encoding":{"x":{"datum":98.5},"y":{"datum":90.6},"text":{"value":"Multivariate analysis P=0.001"}}},
 {"data":{"values":[{}]},"mark":{"type":"text","fontSize":15,"fontWeight":"bold","align":"left","baseline":"middle","color":"#111111"},"encoding":{"x":{"datum":109.4},"y":{"datum":34.5},"text":{"value":"n=236, events=152"}}},
 {"data":{"values":[{}]},"mark":{"type":"text","fontSize":15,"fontWeight":"bold","align":"left","baseline":"middle","color":"#7a7a7a"},"encoding":{"x":{"datum":158.4},"y":{"datum":20.7},"text":{"value":"n=628, events=417"}}},
 {"data":{"values":[{}]},"mark":{"type":"text","fontSize":15,"fontWeight":"bold","align":"left","baseline":"middle","color":"#999999"},"encoding":{"x":{"datum":113},"y":{"datum":12.7},"text":{"value":"n=298, events=213"}}},
 {"data":{"values":[{}]},"mark":{"type":"text","fontSize":26,"align":"center","baseline":"middle","color":"#231815"},"encoding":{"x":{"datum":-30.7},"y":{"datum":97.4},"text":{"value":"A"}}}
]},
{"width":404,"height":292,"layer":[
 {"data":{"name":"km"},"transform":[{"filter":"datum.p==='B'"}],"mark":{"type":"line","interpolate":"step-after","strokeWidth":2.2},
  "encoding":{"x":{"field":"t","type":"quantitative","scale":{"domain":[0,200],"nice":false},"axis":{"values":[0,50,100,150,200],"title":"Survival time (months)"}},
  "y":{"field":"s","type":"quantitative","scale":{"domain":[0,100],"nice":false},"axis":{"values":[0,20,40,60,80,100],"title":"Percent survival (%)"}},
  "color":{"field":"g","type":"nominal","scale":{"domain":["0–1 risk genotype","2 risk genotypes"],"range":["#231815","#828282"]},
  "legend":{"orient":"none","legendX":315,"legendY":48,"title":null,"symbolType":"stroke","symbolSize":484,"symbolStrokeWidth":1.5,"symbolDash":[4,2],"labelFontSize":16,"labelOffset":6,"rowPadding":5,"padding":0,"labelColor":"#231815"}}}},
 {"data":{"name":"cens"},"transform":[{"filter":"datum.p==='B'"}],"mark":{"type":"tick","orient":"vertical","size":5,"thickness":1.5,"yOffset":-2},
  "encoding":{"x":{"field":"t","type":"quantitative"},"y":{"field":"s","type":"quantitative"},"color":{"field":"g","type":"nominal"}}},
 {"data":{"values":[{}]},"mark":{"type":"text","fontSize":18.5,"align":"center","baseline":"middle","color":"#231815"},"encoding":{"x":{"datum":103.5},"y":{"datum":97.5},"text":{"value":"OS: Log-rank P=0.050"}}},
 {"data":{"values":[{}]},"mark":{"type":"text","fontSize":18.5,"align":"center","baseline":"middle","color":"#231815"},"encoding":{"x":{"datum":103.5},"y":{"datum":90.6},"text":{"value":"Multivariate analysis P=0.013"}}},
 {"data":{"values":[{}]},"mark":{"type":"text","fontSize":15,"fontWeight":"bold","align":"left","baseline":"middle","color":"#111111"},"encoding":{"x":{"datum":109.7},"y":{"datum":34.5},"text":{"value":"n=864, events=569"}}},
 {"data":{"values":[{}]},"mark":{"type":"text","fontSize":15,"fontWeight":"bold","align":"left","baseline":"middle","color":"#8a8a8a"},"encoding":{"x":{"datum":113.4},"y":{"datum":12.7},"text":{"value":"n=298, events=213"}}},
 {"data":{"values":[{}]},"mark":{"type":"text","fontSize":26,"align":"center","baseline":"middle","color":"#231815"},"encoding":{"x":{"datum":-35.4},"y":{"datum":97.4},"text":{"value":"B"}}}
]},
{"width":404,"height":292,"layer":[
 {"data":{"name":"km"},"transform":[{"filter":"datum.p==='C'"}],"mark":{"type":"line","interpolate":"step-after","strokeWidth":2.2},
  "encoding":{"x":{"field":"t","type":"quantitative","scale":{"domain":[0,200],"nice":false},"axis":{"values":[0,50,100,150,200],"title":"Survival time (months)"}},
  "y":{"field":"s","type":"quantitative","scale":{"domain":[0,100],"nice":false},"axis":{"values":[0,20,40,60,80,100],"title":"Percent survival (%)"}},
  "color":{"field":"g","type":"nominal","scale":{"domain":["0 risk genotype","1 risk genotype","2 risk genotypes"],"range":["#231815","#6f6f6f","#b3b3b3"]},
  "legend":{"orient":"none","legendX":317,"legendY":49,"title":null,"symbolType":"stroke","symbolSize":484,"symbolStrokeWidth":1.5,"symbolDash":[4,2],"labelFontSize":16,"labelOffset":6,"rowPadding":5,"padding":0,"labelColor":"#231815"}}}},
 {"data":{"name":"cens"},"transform":[{"filter":"datum.p==='C'"}],"mark":{"type":"tick","orient":"vertical","size":5,"thickness":1.5,"yOffset":-2},
  "encoding":{"x":{"field":"t","type":"quantitative"},"y":{"field":"s","type":"quantitative"},"color":{"field":"g","type":"nominal"}}},
 {"data":{"values":[{}]},"mark":{"type":"text","fontSize":18.5,"align":"center","baseline":"middle","color":"#231815"},"encoding":{"x":{"datum":106},"y":{"datum":96.7},"text":{"value":"DSS: Log-rank P=0.057"}}},
 {"data":{"values":[{}]},"mark":{"type":"text","fontSize":18.5,"align":"center","baseline":"middle","color":"#231815"},"encoding":{"x":{"datum":106},"y":{"datum":89.7},"text":{"value":"Multivariate analysis P=0.001"}}},
 {"data":{"values":[{}]},"mark":{"type":"text","fontSize":15,"fontWeight":"bold","align":"left","baseline":"middle","color":"#111111"},"encoding":{"x":{"datum":107.4},"y":{"datum":39.5},"text":{"value":"n=236, events=136"}}},
 {"data":{"values":[{}]},"mark":{"type":"text","fontSize":15,"fontWeight":"bold","align":"left","baseline":"middle","color":"#7a7a7a"},"encoding":{"x":{"datum":158},"y":{"datum":30.4},"text":{"value":"n=628, events=371"}}},
 {"data":{"values":[{}]},"mark":{"type":"text","fontSize":15,"fontWeight":"bold","align":"left","baseline":"middle","color":"#999999"},"encoding":{"x":{"datum":109.3},"y":{"datum":19.6},"text":{"value":"n=298, events=195"}}},
 {"data":{"values":[{}]},"mark":{"type":"text","fontSize":26,"align":"center","baseline":"middle","color":"#231815"},"encoding":{"x":{"datum":-31},"y":{"datum":97.6},"text":{"value":"C"}}}
]},
{"width":404,"height":292,"layer":[
 {"data":{"name":"km"},"transform":[{"filter":"datum.p==='D'"}],"mark":{"type":"line","interpolate":"step-after","strokeWidth":2.2},
  "encoding":{"x":{"field":"t","type":"quantitative","scale":{"domain":[0,200],"nice":false},"axis":{"values":[0,50,100,150,200],"title":"Survival time (months)"}},
  "y":{"field":"s","type":"quantitative","scale":{"domain":[0,100],"nice":false},"axis":{"values":[0,20,40,60,80,100],"title":"Percent survival (%)"}},
  "color":{"field":"g","type":"nominal","scale":{"domain":["0–1 risk genotype","2 risk genotypes"],"range":["#231815","#828282"]},
  "legend":{"orient":"none","legendX":318,"legendY":50,"title":null,"symbolType":"stroke","symbolSize":484,"symbolStrokeWidth":1.5,"symbolDash":[4,2],"labelFontSize":16,"labelOffset":6,"rowPadding":5,"padding":0,"labelColor":"#231815"}}}},
 {"data":{"name":"cens"},"transform":[{"filter":"datum.p==='D'"}],"mark":{"type":"tick","orient":"vertical","size":5,"thickness":1.5,"yOffset":-2},
  "encoding":{"x":{"field":"t","type":"quantitative"},"y":{"field":"s","type":"quantitative"},"color":{"field":"g","type":"nominal"}}},
 {"data":{"values":[{}]},"mark":{"type":"text","fontSize":18.5,"align":"center","baseline":"middle","color":"#231815"},"encoding":{"x":{"datum":104.5},"y":{"datum":98.3},"text":{"value":"DSS: Log-rank P=0.029"}}},
 {"data":{"values":[{}]},"mark":{"type":"text","fontSize":18.5,"align":"center","baseline":"middle","color":"#231815"},"encoding":{"x":{"datum":105.5},"y":{"datum":91.3},"text":{"value":"Multivariate analysis P=0.009"}}},
 {"data":{"values":[{}]},"mark":{"type":"text","fontSize":15,"fontWeight":"bold","align":"left","baseline":"middle","color":"#111111"},"encoding":{"x":{"datum":111.1},"y":{"datum":37.2},"text":{"value":"n=864, events=507"}}},
 {"data":{"values":[{}]},"mark":{"type":"text","fontSize":15,"fontWeight":"bold","align":"left","baseline":"middle","color":"#8a8a8a"},"encoding":{"x":{"datum":115.5},"y":{"datum":19.6},"text":{"value":"n=298, events=195"}}},
 {"data":{"values":[{}]},"mark":{"type":"text","fontSize":26,"align":"center","baseline":"middle","color":"#231815"},"encoding":{"x":{"datum":-34.2},"y":{"datum":97.6},"text":{"value":"D"}}}
]}
],
"config":{"font":"Liberation Sans","view":{"stroke":null},
 "axis":{"grid":false,"domainColor":"#231815","domainWidth":2,"tickColor":"#231815","tickWidth":1.5,"tickSize":5,"labelFontSize":18,"titleFontSize":18,"titleFontWeight":"normal","labelColor":"#231815","titleColor":"#231815","labelPadding":3,"titlePadding":4},
 "axisX":{"labelPadding":6,"titlePadding":2},
 "axisY":{"titlePadding":6}}
}
